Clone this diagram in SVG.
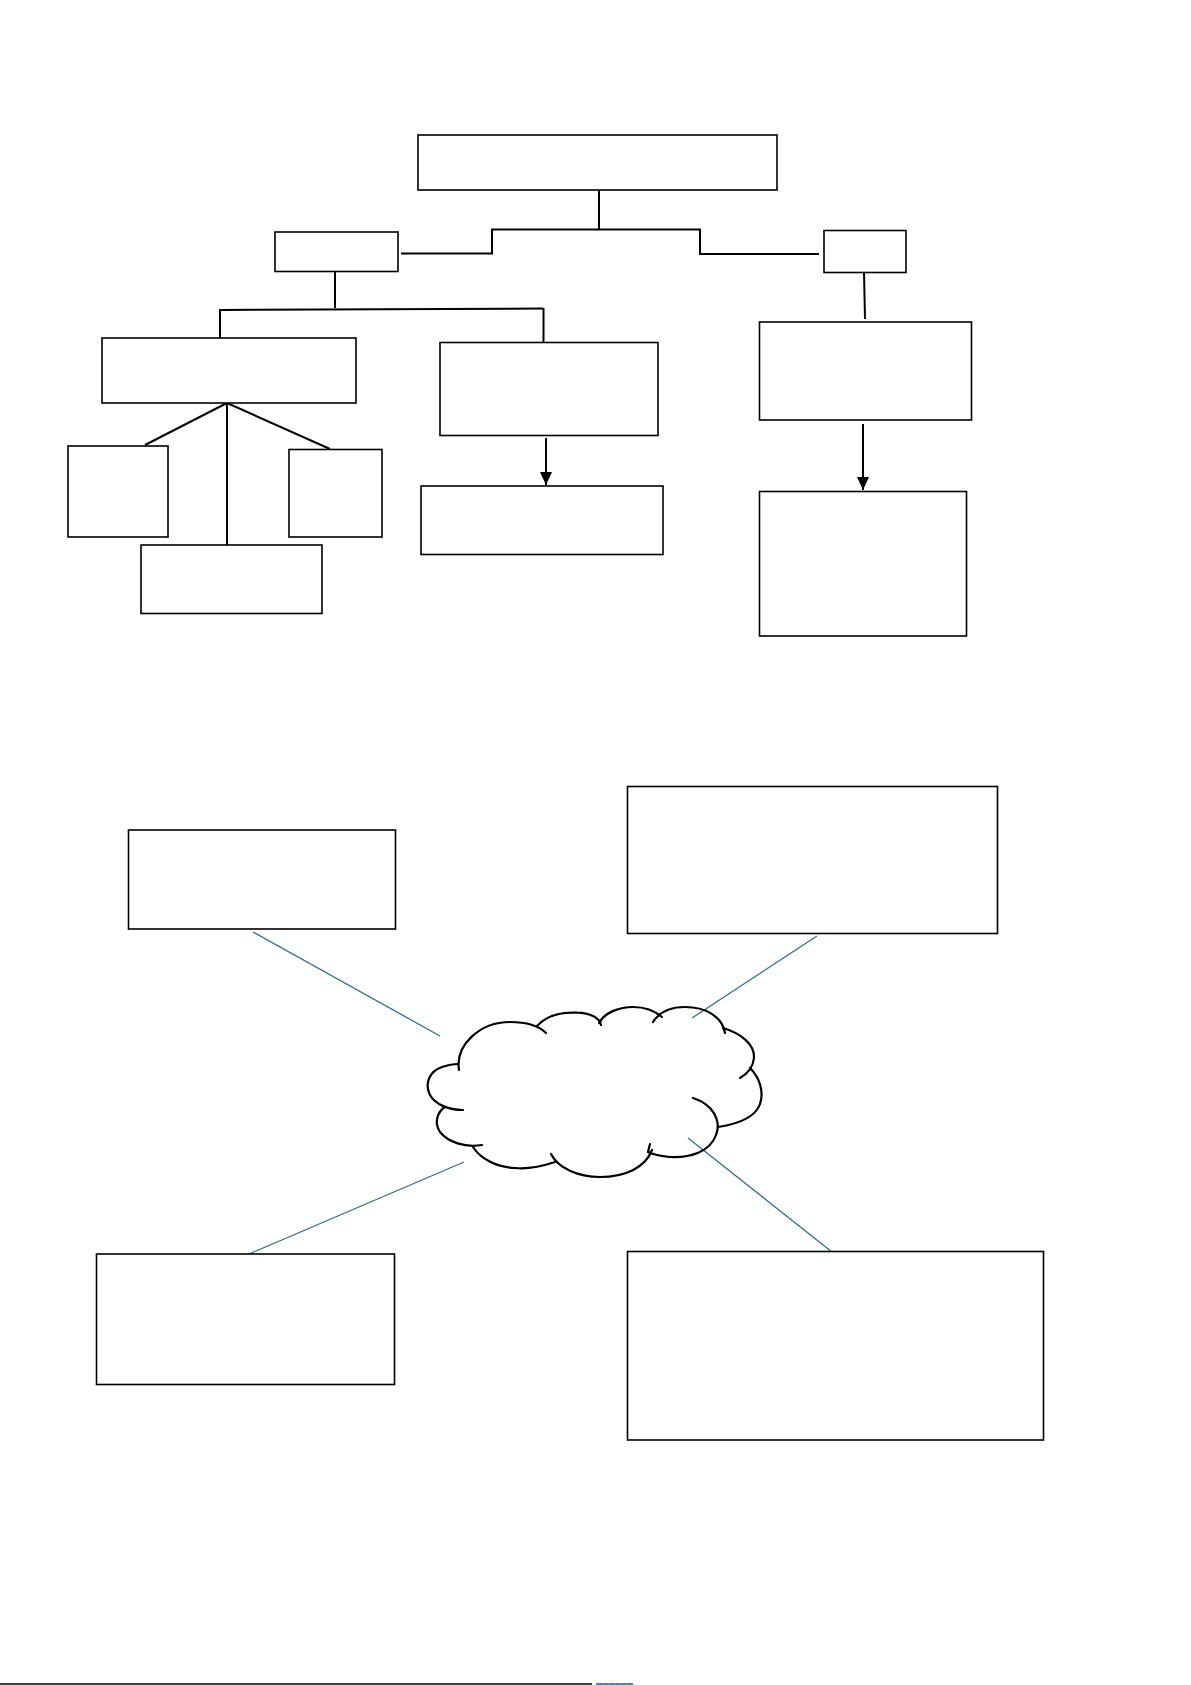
<svg xmlns="http://www.w3.org/2000/svg" width="1191" height="1685" viewBox="0 0 1191 1685">
  <defs>
    <style>
      .box { fill: #ffffff; stroke: #000000; stroke-width: 1.6; }
      .conn { fill: none; stroke: #000000; stroke-width: 2; }
      .blue { fill: none; stroke: #2e6f9e; stroke-width: 1.3; }
      .cloud { fill: none; stroke: #000000; stroke-width: 2.2; stroke-linecap: round; }
    </style>
    <marker id="arrow" markerUnits="userSpaceOnUse" markerWidth="13" markerHeight="12" refX="13" refY="6" orient="auto" viewBox="0 0 13 12">
      <path d="M0,0 L13,6 L0,12 Z" fill="#000000"/>
    </marker>
  </defs>
  <rect x="0" y="0" width="1191" height="1685" fill="#ffffff"/>

  <g id="connectors">
    <path class="conn" d="M599,190 V229.5 M492,229.5 H700 M492,228.5 V253.5 H401 M700,228.5 V254 H819" stroke-width="2.2"/>
    <path class="conn" d="M335,272 V308"/>
    <path class="conn" d="M220,310 L543,308.5"/>
    <path class="conn" d="M220,309 V338"/>
    <path class="conn" d="M543.5,308 V342" stroke-width="1.6"/>
    <path class="conn" d="M864,272 L865,319"/>
    <path class="conn" d="M227,403 L145,445 M227,403 V545 M227,403 L330,449"/>
    <path class="conn" d="M546,438 V485" marker-end="url(#arrow)"/>
    <path class="conn" d="M863,424 V490" marker-end="url(#arrow)"/>
    <path class="blue" d="M253,932 L440,1036"/>
    <path class="blue" d="M817,936 L692,1018"/>
    <path class="blue" d="M464,1162 L249,1254"/>
    <path class="blue" d="M688,1138 L832,1252"/>
  </g>

  <g id="node-top"><rect class="box" x="418" y="135" width="359" height="55"/></g>
  <g id="node-left"><rect class="box" x="275" y="232" width="123" height="39.5"/></g>
  <g id="node-right"><rect class="box" x="824" y="230.5" width="82" height="42"/></g>
  <g id="node-a"><rect class="box" x="102" y="338" width="254" height="65"/></g>
  <g id="node-a1"><rect class="box" x="68" y="446" width="100" height="91"/></g>
  <g id="node-a2"><rect class="box" x="141" y="545" width="181" height="68.5"/></g>
  <g id="node-a3"><rect class="box" x="289" y="449.5" width="93" height="87.5"/></g>
  <g id="node-b"><rect class="box" x="440" y="342.5" width="218" height="93"/></g>
  <g id="node-c"><rect class="box" x="421" y="486" width="242" height="68.5"/></g>
  <g id="node-d"><rect class="box" x="759.5" y="322" width="212" height="98"/></g>
  <g id="node-e"><rect class="box" x="759.5" y="491.5" width="207" height="144.5"/></g>

  <g id="node-f"><rect class="box" x="128.5" y="830" width="267" height="99"/></g>
  <g id="node-g"><rect class="box" x="627.5" y="786.5" width="370" height="147"/></g>
  <g id="node-h"><rect class="box" x="96.5" y="1254" width="298" height="130.5"/></g>
  <g id="node-i"><rect class="box" x="627.5" y="1251.5" width="416" height="188.5"/></g>

  <g id="node-cloud">
    <path class="cloud" d="M459,1070 C455,1045 480,1022 510,1022 C528,1022 540,1027 546,1033"/>
    <path class="cloud" d="M537,1026 C548,1014 565,1012 577,1012.7 C590,1013 600,1018 601,1025"/>
    <path class="cloud" d="M599,1023 C605,1012 620,1007 633,1007 C645,1007 655,1011 662,1017"/>
    <path class="cloud" d="M653,1022 C660,1011 672,1007 685,1007 C705,1007 722,1016 725,1033"/>
    <path class="cloud" d="M723,1028 C740,1033 755,1044 754,1058 C753,1068 747,1074 740,1078"/>
    <path class="cloud" d="M750,1068 C760,1078 764,1092 760,1104 C755,1118 738,1124 718,1127"/>
    <path class="cloud" d="M693,1098 C712,1104 722,1120 716,1135 C710,1152 690,1158 670,1157 C660,1156 652,1154 648,1152 L650,1144"/>
    <path class="cloud" d="M652,1150 C645,1168 625,1177 600,1177 C578,1177 558,1168 551,1154"/>
    <path class="cloud" d="M555,1162 C540,1167 525,1169 515,1168 C495,1167 480,1158 473,1147"/>
    <path class="cloud" d="M482,1145 C465,1148 448,1142 440,1132 C434,1123 437,1112 445,1107"/>
    <path class="cloud" d="M463,1110 C448,1110 435,1104 430,1095 C424,1083 430,1071 442,1067 C448,1065 453,1064 458,1064"/>
  </g>

  <g id="page-footer">
    <line x1="0" y1="1684" x2="592" y2="1684" stroke="#000000" stroke-width="1.6"/>
    <line x1="596" y1="1684" x2="633" y2="1684" stroke="#3a3f8f" stroke-width="1.6"/>
    <line x1="596" y1="1684" x2="633" y2="1684" stroke="#30b0c0" stroke-width="1.6" stroke-dasharray="2 4"/>
  </g>
</svg>
